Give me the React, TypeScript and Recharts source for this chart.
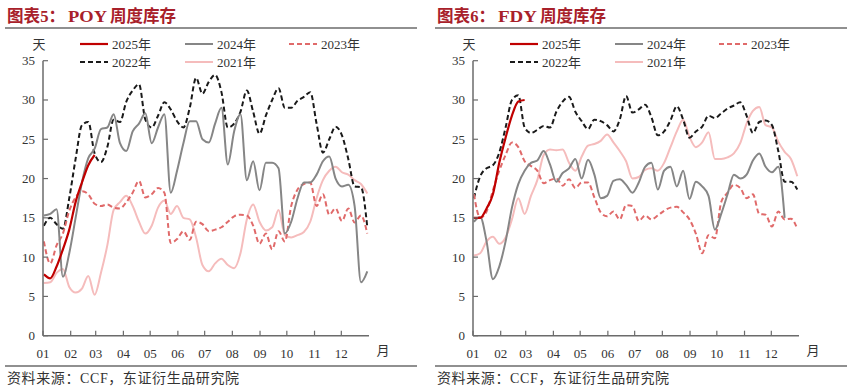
import React from 'react';
import { LineChart, Line, XAxis, YAxis } from 'recharts';

// ---- categories / ticks ----
const monthTicks = [0, 31, 59, 90, 120, 151, 181, 212, 243, 273, 304, 334];
const monthLabels = ['01', '02', '03', '04', '05', '06', '07', '08', '09', '10', '11', '12'];
const yTicks = [0, 5, 10, 15, 20, 25, 30, 35];
const weekDays = Array.from({ length: 52 }, (_, i) => 1 + i * 7.1); // day-of-year of each weekly observation

// ---- POY weekly inventory (days) ----
const poy2025 = [7.8, 7.3, 8.8, 11, 13.5, 17, 19.5, 21.7, 23];
const poy2024 = [15.3, 15.5, 16.1, 7.5, 10.5, 15, 19.5, 22.6, 23.8, 26.3, 26.5, 28.2, 24.5, 23.5, 26, 27, 28.3, 24.5, 26.5, 28.2, 18.2, 21, 24.5, 27.3, 27.3, 25, 24.6, 27, 29, 21.8, 26, 28.2, 19.8, 22.2, 18.5, 22, 22, 21.3, 13, 14.5, 17.5, 19.5, 19.5, 20.5, 22.2, 22.8, 20, 19, 19.2, 16.5, 6.8, 8.2];
const poy2023 = [12, 9.2, 11.5, 13, 15.9, 17.6, 18.4, 18, 16.8, 16.5, 16.7, 16.3, 16.2, 17, 18.2, 19.7, 17.6, 18, 18.8, 18.2, 11.8, 12.3, 13.3, 12.2, 14.5, 14.2, 13.3, 13.5, 13.8, 14.5, 15.2, 15.4, 15.3, 14, 11.7, 13, 11, 13.3, 12, 16.5, 18.6, 19.3, 19.5, 16.5, 18, 15.4, 16.2, 14.6, 16.2, 14.4, 15.3, 13];
const poy2022 = [14, 15, 14.2, 13.6, 17.5, 22.5, 26.8, 27.2, 23.2, 22.1, 24, 27.5, 27.2, 29.8, 31.2, 32, 27.5, 26.5, 28, 29.7, 28.8, 27.3, 26.5, 29, 32.8, 30.8, 32.3, 33.2, 31, 26.5, 27, 28.5, 31.2, 28.5, 25.7, 28, 30, 31.5, 29, 29, 29.9, 30.4, 31, 27, 23.3, 25, 26.6, 25.5, 22.5, 19, 18.9, 13.8];
const poy2021 = [6.7, 6.8, 8, 8.5, 6.2, 5.5, 6, 7.6, 5.2, 8, 11.5, 16, 17, 17.8, 16.5, 14.5, 13, 14, 16.3, 17.2, 15.5, 16.5, 15, 14.8, 12.5, 9, 8.2, 9.2, 9.8, 9, 8.6, 10.5, 14.8, 16.7, 14.5, 13.4, 13.8, 16, 12.8, 12.5, 12.8, 13.2, 14.5, 17.5, 19.8, 21, 21.5, 20.8, 20.5, 19.8, 19.3, 18.1];

// ---- FDY weekly inventory (days) ----
const fdy2025 = [15, 15, 16.2, 18, 22, 25.2, 28, 29.8, 30];
const fdy2024 = [14.5, 15.1, 12, 7.2, 8.8, 12, 16.3, 19.3, 21, 22, 22.3, 23.5, 21.8, 19.6, 20.7, 21.3, 22.5, 20, 22.4, 20.5, 17.5, 17.8, 19.7, 19.9, 19.2, 18.2, 19.5, 21.5, 22, 18.6, 21, 21.5, 19, 21, 17.4, 19.6, 19, 17.8, 13.5, 15.5, 18, 20.5, 20, 20.5, 22.3, 23.2, 21.5, 20.8, 21.5, 15];
const fdy2023 = [18, 15, 15.8, 18.5, 21, 23, 24.6, 24, 22.2, 21.6, 21, 19.4, 19.8, 20, 19.1, 19.9, 18.8, 19.5, 19.5, 17.6, 15.7, 15.2, 15.8, 14.8, 16.6, 16.5, 14.6, 15.3, 14.8, 15.3, 15.9, 16.3, 16.4, 15.7, 14.8, 13, 10.5, 12.8, 12.4, 17, 18.2, 19.2, 18.8, 17.5, 18, 15.5, 15.4, 13.9, 15.8, 14.8, 14.9, 13.6];
const fdy2022 = [17.5, 20.3, 21.3, 21.7, 23.3, 26.5, 30, 30.6, 26.5, 25.8, 26.2, 26.7, 26.5, 28.5, 29.8, 30.4, 28.5, 27.3, 26.3, 27.5, 27.3, 26.8, 26, 27.5, 30.5, 28.4, 28.8, 29.4, 27.8, 25.5, 26, 27.4, 29.2, 27.5, 25.2, 26, 26.6, 28, 27.7, 28.3, 28.9, 29.3, 29.7, 28, 25.8, 27.2, 27.4, 26.8, 23.5, 19.6, 19.6, 18.6];
const fdy2021 = [10.2, 10.5, 12, 12.6, 11.7, 12.5, 14.8, 17.5, 15.5, 17.8, 19.8, 23, 23.7, 23.6, 23.7, 22, 21, 22.8, 24.2, 24.4, 24.8, 25.6, 24.6, 23.5, 22.2, 20, 20.2, 21.1, 21.3, 21, 22, 24, 26, 27.5, 25.3, 24, 24.6, 25.9, 22.5, 22.5, 22.7, 23.2, 24.5, 27, 28.6, 29.1, 26.8, 26.5, 24.7, 23.4, 22.5, 20.3];

const seriesKeys = ['y2021', 'y2022', 'y2023', 'y2024', 'y2025'];
const seriesLabels: Record<string, string> = {
  y2025: '2025年', y2024: '2024年', y2023: '2023年', y2022: '2022年', y2021: '2021年',
};
const seriesStyle: Record<string, { stroke: string; width: number; dash?: string }> = {
  y2025: { stroke: '#c00000', width: 2.2 },
  y2024: { stroke: '#868686', width: 2 },
  y2023: { stroke: '#e06a6a', width: 2, dash: '5 3' },
  y2022: { stroke: '#1a1a1a', width: 2, dash: '5 3' },
  y2021: { stroke: '#f5bcbc', width: 2 },
};

function buildRows(s25: number[], s24: number[], s23: number[], s22: number[], s21: number[]) {
  return weekDays.map((d, i) => ({
    day: d,
    y2025: s25[i] ?? null,
    y2024: s24[i] ?? null,
    y2023: s23[i] ?? null,
    y2022: s22[i] ?? null,
    y2021: s21[i] ?? null,
  }));
}

const poyRows = buildRows(poy2025, poy2024, poy2023, poy2022, poy2021);
const fdyRows = buildRows(fdy2025, fdy2024, fdy2023, fdy2022, fdy2021);

const SERIF = "'Liberation Serif', 'Times New Roman', 'Noto Sans CJK SC', serif";
const AXIS = '#6b6b6b';
const TEXT = '#333333';

const XTick = (props: any) => {
  const { x, y, payload } = props;
  const idx = monthTicks.indexOf(payload.value);
  return (
    <g>
      <line x1={x} y1={y} x2={x} y2={y - 5} stroke={AXIS} strokeWidth={1.2} />
      <text x={x} y={y + 22} textAnchor="middle" fontSize={13} fontFamily={SERIF} fill={TEXT}>
        {monthLabels[idx] ?? ''}
      </text>
    </g>
  );
};

const YTick = (props: any) => {
  const { x, y, payload } = props;
  return (
    <g>
      <line x1={x} y1={y} x2={x + 5} y2={y} stroke={AXIS} strokeWidth={1.2} />
      <text x={x - 8} y={y + 4.5} textAnchor="end" fontSize={13} fontFamily={SERIF} fill={TEXT}>
        {payload.value}
      </text>
    </g>
  );
};

const legendLayout = [
  { key: 'y2025', x: 80, y: 44 },
  { key: 'y2024', x: 185, y: 44 },
  { key: 'y2023', x: 289, y: 44 },
  { key: 'y2022', x: 80, y: 62 },
  { key: 'y2021', x: 185, y: 62 },
];

function Panel({ left, titleA, titleB, titleC, rows }: { left: number; titleA: string; titleB: string; titleC: string; rows: any[] }) {
  return (
    <div style={{ position: 'absolute', left, top: 0, width: 426, height: 392 }}>
      <div style={{ position: 'absolute', left: 0, top: 0 }}>
        <LineChart width={426} height={392} data={rows} margin={{ top: 60.7, right: 57, bottom: 31.3, left: 13 }}>
          <XAxis
            dataKey="day" type="number" domain={[0, 365]} ticks={monthTicks} interval={0}
            tick={<XTick />} tickLine={false} tickSize={0} tickMargin={0} height={25}
            axisLine={{ stroke: AXIS, strokeWidth: 1.5 }} allowDataOverflow
          />
          <YAxis
            type="number" domain={[0, 35]} ticks={yTicks} interval={0} width={30}
            tick={<YTick />} tickLine={false} tickSize={0} tickMargin={0}
            axisLine={{ stroke: AXIS, strokeWidth: 1.5 }} allowDataOverflow
          />
          {seriesKeys.map((k) => (
            <Line
              key={k} type="monotone" dataKey={k} stroke={seriesStyle[k].stroke}
              strokeWidth={seriesStyle[k].width} strokeDasharray={seriesStyle[k].dash}
              dot={false} activeDot={false} isAnimationActive={false} connectNulls={false}
            />
          ))}
        </LineChart>
      </div>
      <svg width={426} height={392} style={{ position: 'absolute', left: 0, top: 0, pointerEvents: 'none' }}>
        <text y={21.5} fontSize={17} fontWeight="bold" fontFamily={SERIF} fill="#a8202a">
          <tspan x={7} textLength={58} lengthAdjust="spacingAndGlyphs">{titleA}</tspan>
          <tspan x={68} textLength={39} lengthAdjust="spacingAndGlyphs">{titleB}</tspan>
          <tspan x={110} textLength={66} lengthAdjust="spacingAndGlyphs">{titleC}</tspan>
        </text>
        <line x1={5} y1={28} x2={417} y2={28} stroke="#222" strokeWidth={1.2} />
        <line x1={5} y1={366} x2={417} y2={366} stroke="#222" strokeWidth={1.2} />
        <text x={39} y={48.5} textAnchor="middle" fontSize={13} fontFamily={SERIF} fill={TEXT}>天</text>
        <text x={383} y={355} textAnchor="middle" fontSize={13} fontFamily={SERIF} fill={TEXT}>月</text>
        {legendLayout.map((l) => (
          <g key={l.key}>
            <line
              x1={l.x} y1={l.y} x2={l.x + 28} y2={l.y} stroke={seriesStyle[l.key].stroke}
              strokeWidth={seriesStyle[l.key].width} strokeDasharray={seriesStyle[l.key].dash}
            />
            <text x={l.x + 32} y={l.y + 4.5} fontSize={13} fontFamily={SERIF} fill={TEXT}>
              {seriesLabels[l.key]}
            </text>
          </g>
        ))}
        <text x={7} y={383} fontSize={14} fontFamily={SERIF} fill={TEXT} letterSpacing={0.6}>
          资料来源：CCF，东证衍生品研究院
        </text>
      </svg>
    </div>
  );
}

export default function App() {
  return (
    <div style={{ position: 'absolute', left: 0, top: 0, width: 852, height: 392, background: '#fff', overflow: 'hidden' }}>
      <Panel left={0} titleA="图表5：" titleB="POY" titleC="周度库存" rows={poyRows} />
      <Panel left={429.7} titleA="图表6：" titleB="FDY" titleC="周度库存" rows={fdyRows} />
    </div>
  );
}
